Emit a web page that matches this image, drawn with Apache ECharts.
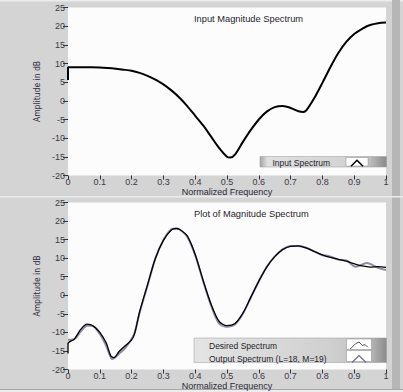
<!DOCTYPE html>
<html><head><meta charset="utf-8">
<script src="https://cdn.jsdelivr.net/npm/echarts@6/dist/echarts.min.js"></script>
<style>html,body{margin:0;padding:0;background:#d4d4d4;}#c{width:403px;height:392px;}</style>
</head><body><div id="c"></div>
<script>
// ---- data ----
var xTicks = ['0','0.1','0.2','0.3','0.4','0.5','0.6','0.7','0.8','0.9','1'];
var yTicks = [-20,-15,-10,-5,0,5,10,15,20,25];

var inputFreq = [0,0,0.025,0.05,0.075,0.1,0.125,0.15,0.175,0.2,0.225,0.25,0.275,0.3,0.325,0.35,0.375,0.4,0.425,0.45,0.475,0.5,0.51,0.525,0.55,0.575,0.6,0.625,0.65,0.675,0.7,0.725,0.74,0.75,0.775,0.8,0.825,0.85,0.875,0.9,0.925,0.95,0.975,1.0];
var inputDb   = [5.6,9.0,9.0,9.0,9.0,8.95,8.8,8.6,8.35,8.05,7.5,6.7,5.7,4.4,2.8,0.9,-1.4,-4.0,-6.6,-9.6,-12.6,-15.0,-15.2,-14.4,-11.0,-7.8,-5.0,-2.9,-1.7,-1.4,-1.9,-2.8,-3.0,-2.5,0.8,4.8,9.0,12.8,15.8,17.9,19.3,20.3,20.8,21.0];

var desiredFreq = [0,0,0.02,0.04,0.06,0.08,0.1,0.12,0.135,0.145,0.16,0.18,0.2,0.21,0.225,0.25,0.275,0.3,0.325,0.34,0.35,0.375,0.4,0.425,0.45,0.475,0.5,0.525,0.55,0.575,0.6,0.625,0.65,0.675,0.7,0.725,0.75,0.775,0.8,0.825,0.85,0.875,0.9,0.925,0.95,0.975,1.0];
var desiredDb   = [-15.7,-13.0,-11.8,-9.2,-7.8,-8.3,-10.0,-12.8,-16.4,-16.8,-15.2,-13.6,-12.0,-10.2,-4.5,2.8,10.0,14.8,17.6,18.0,17.8,16.0,11.0,4.0,-2.4,-7.0,-8.2,-7.6,-4.8,-0.5,3.8,7.6,10.4,12.3,13.2,13.3,12.7,11.8,10.9,10.2,9.7,9.2,8.5,7.9,7.6,7.7,7.5];

var outputFreq = [0,0.02,0.04,0.06,0.075,0.1,0.12,0.14,0.16,0.18,0.2,0.21,0.225,0.25,0.275,0.3,0.325,0.34,0.35,0.375,0.4,0.425,0.45,0.475,0.5,0.525,0.55,0.575,0.6,0.625,0.65,0.675,0.7,0.725,0.75,0.775,0.8,0.82,0.85,0.875,0.905,0.94,0.975,1.0];
var outputDb   = [-12.0,-11.8,-9.8,-8.2,-8.2,-10.4,-13.6,-17.2,-15.8,-14.2,-11.8,-10.0,-4.8,2.6,10.0,14.9,17.8,18.0,17.8,15.8,10.8,3.8,-2.8,-7.6,-8.5,-7.9,-5.0,-0.6,3.8,7.7,10.4,12.4,13.3,13.3,12.8,11.8,10.8,10.6,9.6,9.4,7.7,8.7,7.4,6.8];

var legendTop = ['Input Spectrum'];
var legendBottom = ['Desired Spectrum', 'Output Spectrum (L=18, M=19)'];

function pairs(xs, ys){ return xs.map(function(x,i){return [x, ys[i]];}); }

var FONT = "'Liberation Sans', Arial, sans-serif";
var NARROW = "'Liberation Sans Narrow', 'DejaVu Sans Condensed', sans-serif";
var LABEL = '#3a3a48';
var LEGFS = 8.5;

var ctx = document.createElement('canvas').getContext('2d');
function textW(s, fs){ ctx.font = fs + "px 'Liberation Sans', Arial, sans-serif"; return ctx.measureText(s).width; }

function xAxis(gi){
  return {type:'value', gridIndex:gi, min:0, max:1, interval:0.1,
    name:'Normalized Frequency', nameLocation:'middle', nameGap:11,
    nameTextStyle:{fontFamily:FONT, fontSize:9, color:'#2a2a38'},
    axisLine:{show:false, onZero:false}, splitLine:{show:false},
    axisTick:{show:true, length:4, lineStyle:{color:'#333'}},
    axisLabel:{margin:2, fontFamily:FONT, fontSize:9, color:LABEL,
      formatter:function(v){ var s = xTicks[Math.round(v*10)]; return s===undefined? '' : s; }}};
}
function yAxis(gi){
  return {type:'value', gridIndex:gi, min:yTicks[0], max:yTicks[yTicks.length-1], interval:5,
    name:'Amplitude in dB', nameLocation:'middle', nameGap:23,
    nameTextStyle:{fontFamily:NARROW, fontSize:8.5, color:'#2a2a38'},
    axisLine:{show:false, onZero:false}, splitLine:{show:false},
    axisTick:{show:true, length:5, lineStyle:{color:'#333'}},
    axisLabel:{margin:3, fontFamily:FONT, fontSize:9, color:LABEL}};
}

// legend: text starts at textLeft, icon starts at iconLeft (align:right => text, 5px, icon)
function legItem(name, textLeft, iconLeft, icon, stroke, lw){
  var w = textW(name, LEGFS);
  var p = Math.max(0, iconLeft - textLeft - w - 5);
  return {name:name, icon:icon, itemStyle:{color:'none', borderColor:stroke, borderWidth:lw},
    textStyle:{fontFamily:FONT, fontSize:LEGFS, color:'#1e1e2a', padding:[0,p,0,0]}};
}

var chart = echarts.init(document.getElementById('c'), null, {renderer:'svg'});
var lg = function(stops){ return new echarts.graphic.LinearGradient(0,0,1,0,stops); };

chart.setOption({
  animation:false,
  backgroundColor:'#d4d4d4',
  graphic:[
    {type:'rect', shape:{x:0,y:0,width:403,height:1.5}, style:{fill:'#ececec'}, z:-10},
    {type:'rect', shape:{x:392,y:0,width:8,height:392}, style:{fill:'#b6b6b6'}, z:-10},
    {type:'rect', shape:{x:0,y:196,width:403,height:1.5}, style:{fill:'#ebebeb'}, z:-10},
    {type:'rect', shape:{x:0,y:389,width:403,height:1}, style:{fill:'#a8a8a8'}, z:-10},
    {type:'rect', shape:{x:0,y:390,width:403,height:2}, style:{fill:'#ececec'}, z:-10},
    // legend boxes
    {type:'rect', shape:{x:260,y:156.5,width:126.5,height:10.5}, z:5,
      style:{fill:lg([{offset:0,color:'#a4a4a4'},{offset:0.06,color:'#e0e0e0'},{offset:0.65,color:'#d4d4d4'},{offset:0.85,color:'#c4c4c4'},{offset:1,color:'#8a8a8a'}]), stroke:'#9a9a9a', lineWidth:0.5}},
    {type:'rect', shape:{x:346,y:157.5,width:22,height:8.5}, z:6, style:{fill:'#ffffff', stroke:'#888', lineWidth:0.5}},
    {type:'rect', shape:{x:194,y:338,width:192.5,height:24.5}, z:5,
      style:{fill:lg([{offset:0,color:'#e4e4e4'},{offset:0.7,color:'#d0d0d0'},{offset:0.9,color:'#c0c0c0'},{offset:1,color:'#8c8c8c'}]), stroke:'#9a9a9a', lineWidth:0.5}},
    {type:'rect', shape:{x:346.5,y:339,width:25,height:10.5}, z:6, style:{fill:'#ffffff', stroke:'#888', lineWidth:0.5}},
    {type:'rect', shape:{x:346.5,y:350.5,width:25,height:11}, z:6, style:{fill:'#ffffff', stroke:'#888', lineWidth:0.5}}
  ],
  title:[
    {text:'Input Magnitude Spectrum', left:194, top:14.3, padding:0, textStyle:{fontFamily:FONT, fontSize:9.3, fontWeight:'normal', color:'#1e1e2a'}},
    {text:'Plot of Magnitude Spectrum', left:194, top:209.3, padding:0, textStyle:{fontFamily:FONT, fontSize:9.3, fontWeight:'normal', color:'#1e1e2a'}}
  ],
  legend:[
    {left:272.5, top:157.7, padding:0, itemWidth:17, itemHeight:6, align:'right', z:10,
      data:[legItem(legendTop[0], 272.5, 348.5, 'path://M0,10 L10,0 L20,10', '#000', 1.5)]},
    {left:209, top:339.5, padding:0, orient:'vertical', itemGap:1.5, itemWidth:20, itemHeight:7, align:'right', z:10,
      data:[
        legItem(legendBottom[0], 209, 349, 'path://M0,8 L6,2 L10,0 L14,4 L17,3 L20,6', '#222', 0.8),
        legItem(legendBottom[1], 209, 349, 'path://M0,10 L10,0 L20,10', '#6a6a88', 1.2)
      ]}
  ],
  grid:[
    {left:68, right:17, top:7.5, height:168, show:true, backgroundColor:'#fcfcfc', borderWidth:0},
    {left:68, right:17, top:202.5, height:167, show:true, backgroundColor:'#fcfcfc', borderWidth:0}
  ],
  xAxis:[xAxis(0), xAxis(1)],
  yAxis:[yAxis(0), yAxis(1)],
  series:[
    {name:'Input Spectrum', type:'line', xAxisIndex:0, yAxisIndex:0, data:pairs(inputFreq,inputDb),
      showSymbol:false, smooth:0.3, lineStyle:{color:'#000', width:2}, itemStyle:{color:'#000'}},
    {name:'Output Spectrum (L=18, M=19)', type:'line', xAxisIndex:1, yAxisIndex:1, data:pairs(outputFreq,outputDb),
      showSymbol:false, smooth:0.3, lineStyle:{color:'#8c8ca6', width:2}, itemStyle:{color:'#6a6a88'}},
    {name:'Desired Spectrum', type:'line', xAxisIndex:1, yAxisIndex:1, data:pairs(desiredFreq,desiredDb),
      showSymbol:false, smooth:0.3, lineStyle:{color:'#000', width:1.3}, itemStyle:{color:'#000'}}
  ]
});
</script></body></html>
